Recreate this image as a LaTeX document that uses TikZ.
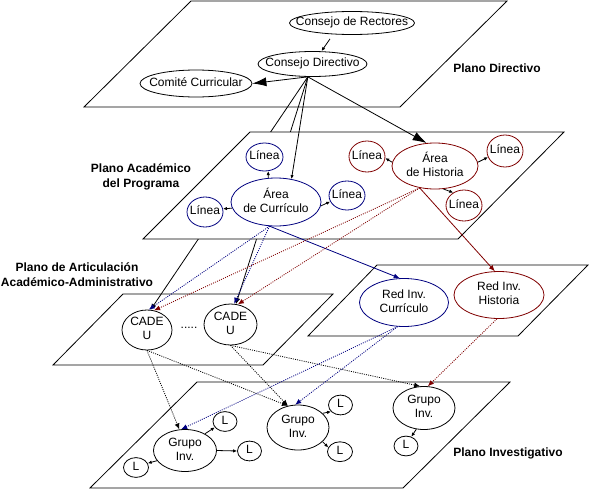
\documentclass[tikz,border=0pt]{standalone}
\usepackage{fontspec}
\setmainfont{Liberation Sans}
\usetikzlibrary{shapes.geometric,arrows.meta}
\definecolor{azul}{RGB}{0,0,128}
\definecolor{rojo}{RGB}{128,0,0}
\newcommand{\ntxt}[1]{\makebox[0pt]{\begin{tabular}{@{}c@{}}#1\end{tabular}}}

\begin{document}
\begin{tikzpicture}[
  x=1pt, y=-1pt,
  font=\fontsize{12}{14}\selectfont,
  line width=0.8pt,
  plano/.style={draw=black, fill=white},
  elip/.style={ellipse, draw=black, inner sep=0pt},
  elipA/.style={elip, draw=azul},
  elipR/.style={elip, draw=rojo},
  rot/.style={font=\fontsize{12}{15}\selectfont\bfseries, align=center},
  arr/.style={-{Latex[length=4pt,width=3.5pt]}},
  arrM/.style={-{Latex[length=6pt,width=5pt]}},
  arrG/.style={-{Latex[length=14pt,width=9pt]}},
  pun/.style={arrM, dash pattern=on 1pt off 1.2pt}
]
\useasboundingbox (0,0) rectangle (589,490);

\filldraw[plano] (191,1) -- (507,1) -- (400,107) -- (84,107) -- cycle;
\filldraw[plano] (123,294) -- (333,294) -- (263,365) -- (53,365) -- cycle;
\filldraw[plano] (377,265) -- (588,265) -- (518,336) -- (308,336) -- cycle;
\filldraw[plano] (197,382) -- (510,382) -- (403,488) -- (90,488) -- cycle;

\node[elip, minimum width=125pt, minimum height=23pt] (rect) at (352,23) {\ntxt{Consejo de Rectores}};
\node[elip, minimum width=109pt, minimum height=25pt] (dir) at (312.5,64) {\ntxt{Consejo Directivo}};
\node[elip, minimum width=112pt, minimum height=27pt] (comite) at (196,83.5) {\ntxt{Comité Curricular}};

\node[elip, minimum width=50pt, minimum height=40pt] (cadeA) at (147,330) {\ntxt{CADE\\U}};
\node[elip, minimum width=53pt, minimum height=41pt] (cadeB) at (230.5,324.5) {\ntxt{CADE\\U}};
\node (puntos) at (189,328) {.....};

\node[elipA, minimum width=89pt, minimum height=48pt] (redcur) at (404,302.5) {\ntxt{Red Inv.\\Currículo}};
\node[elipR, minimum width=90pt, minimum height=47pt] (redhist) at (499,295) {\ntxt{Red Inv.\\Historia}};

\node[elip, minimum width=63pt, minimum height=42pt] (grupoA) at (185,450.5) {\ntxt{Grupo\\Inv.}};
\node[elip, minimum width=62pt, minimum height=45pt] (grupoB) at (298,427.5) {\ntxt{Grupo\\Inv.}};
\node[elip, minimum width=62pt, minimum height=43pt] (grupoC) at (424,408) {\ntxt{Grupo\\Inv.}};
\node[elip, minimum width=24pt, minimum height=17pt] (l1) at (225,421.5) {\ntxt{L}};
\node[elip, minimum width=24pt, minimum height=17pt] (l2) at (249.5,451) {\ntxt{L}};
\node[elip, minimum width=25pt, minimum height=18pt] (l3) at (136,467.5) {\ntxt{L}};
\node[elip, minimum width=24pt, minimum height=17pt] (l4) at (340.5,405) {\ntxt{L}};
\node[elip, minimum width=25pt, minimum height=17pt] (l5) at (340,451.7) {\ntxt{L}};
\node[elip, minimum width=24pt, minimum height=18pt] (l6) at (406,446) {\ntxt{L}};

\draw[arrM] (dir.250) -- (cadeA.80);
\draw[arrM] (dir.250) -- (cadeB.75);

\filldraw[plano] (250,132) -- (564,132) -- (458,239) -- (143,239) -- cycle;

\node[elipA, minimum width=90pt, minimum height=48pt] (acur) at (276,202) {\ntxt{Área\\de Currículo}};
\node[elipA, minimum width=37pt, minimum height=28pt] (lin1) at (264.5,157) {\ntxt{Línea}};
\node[elipA, minimum width=36pt, minimum height=30pt] (lin2) at (205,212) {\ntxt{Línea}};
\node[elipA, minimum width=36pt, minimum height=29pt] (lin3) at (347,195.5) {\ntxt{Línea}};
\node[elipR, minimum width=86pt, minimum height=46pt] (hist) at (435,166) {\ntxt{Área\\de Historia}};
\node[elipR, minimum width=36pt, minimum height=31pt] (lin4) at (367,156.5) {\ntxt{Línea}};
\node[elipR, minimum width=36pt, minimum height=32pt] (lin5) at (505,151) {\ntxt{Línea}};
\node[elipR, minimum width=36pt, minimum height=31pt] (lin6) at (464,205.5) {\ntxt{Línea}};

\node[rot] (tdir) at (497,68) {Plano Directivo};
\node[rot] (tacad) at (141,177) {Plano Académico\\del Programa};
\node[rot] (tart) at (77,274.5) {Plano de Articulación\\Académico-Administrativo};
\node[rot] (tinv) at (508,453) {Plano Investigativo};

\draw[arr] ([xshift=-22pt,yshift=-4pt]rect.south) -- ([xshift=9pt]dir.north);
\draw[arrG] (dir.250) -- (comite.east);
\draw[arr] (dir.250) -- (acur.56);
\draw[arrG] (dir.250) -- (hist.110);

\draw[arr] (acur.108) -- (lin1.285);
\draw[arr] (acur.188) -- (lin2.10);
\draw[arr] (acur.355) -- (lin3.200);
\draw[arr] (hist.175) -- (lin4.355);
\draw[arr] (hist.5) -- (lin5.200);
\draw[arr] (hist.290) -- (lin6.130);

\draw[arrM, azul] (acur.255) -- (redcur.100);
\draw[pun, azul] (acur.255) -- (cadeA.85);
\draw[pun, azul] (acur.255) -- (cadeB.80);
\draw[arrM, rojo] (hist.235) -- (redhist.100);
\draw[pun, rojo] (hist.235) -- (cadeA.70);
\draw[pun, rojo] (hist.235) -- (cadeB.70);

\draw[pun] (cadeA.south) -- (grupoA.105);
\draw[pun] (cadeA.south) -- (grupoB.115);
\draw[pun] (cadeB.south) -- (grupoB.115);
\draw[pun] (cadeB.south) -- (grupoC.100);
\draw[pun, azul] (redcur.255) -- (grupoA.100);
\draw[pun, azul] (redcur.255) -- (grupoB.97);
\draw[pun, rojo] (redhist.265) -- (grupoC.80);

\draw[arr] (grupoA.40) -- (l1.210);
\draw[arr] (grupoA.east) -- (l2.west);
\draw[arr] (grupoA.200) -- (l3.20);
\draw[arr] (grupoB.30) -- (l4.215);
\draw[arr] (grupoB.330) -- (l5.160);
\draw[arr] (grupoC.250) -- (l6.60);

\end{tikzpicture}
\end{document}
